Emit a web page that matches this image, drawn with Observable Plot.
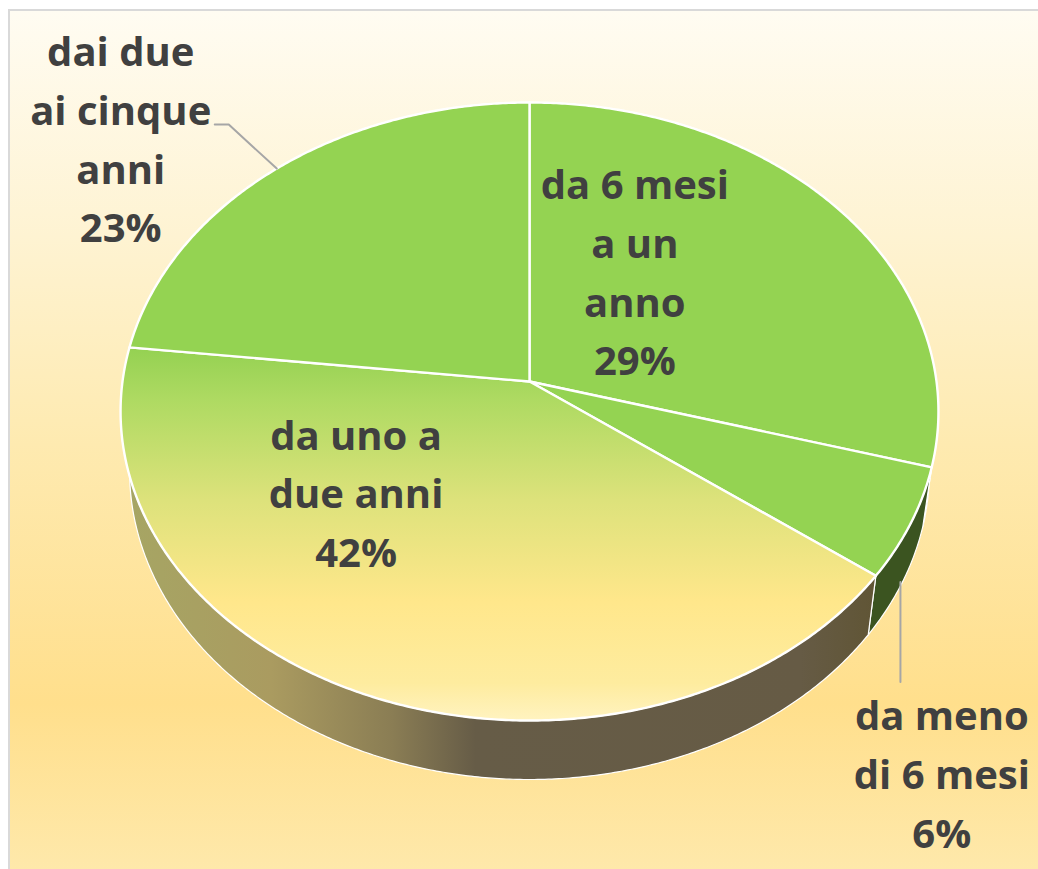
<!DOCTYPE html>
<html>
<head>
<meta charset="utf-8">
<script src="https://cdn.jsdelivr.net/npm/d3@7"></script>
<script src="https://cdn.jsdelivr.net/npm/@observablehq/plot@0.6"></script>
<style>
  html, body { margin: 0; padding: 0; background: #fff; }
  #chart { position: relative; width: 1038px; height: 869px; overflow: hidden; }
  #panel { position: absolute; left: 8px; top: 9px; width: 1040px; height: 870px; box-sizing: border-box;
    border: 2px solid #d9d9d9;
    background: linear-gradient(180deg, #fffcf2 0%, #fef3d2 26%, #feeab0 50%, #ffdf8c 80%, #fee9ac 100%); }
  #chart svg { position: absolute; left: 0; top: 0; }
</style>
</head>
<body>
<div id="chart"><div id="panel"></div></div>
<script>
// ---- data (clockwise from 12 o'clock) ----
const categories = ["da 6 mesi\na un\nanno", "da meno\ndi 6 mesi", "da uno a\ndue anni", "dai due\nai cinque\nanni"];
const shares = [29.4, 5.8, 41.6, 23.2];

// ---- geometry of the tilted disc ----
const cx = 529, cy = 381, A = 407, B = 306.1;   // scale ranges
const persp = 0.0971, taper = 0.978, depth = 59 / B;

const total = d3.sum(shares);
let run = 0;
const slices = shares.map((v, i) => {
  const start = run / total * 2 * Math.PI; run += v;
  const end = run / total * 2 * Math.PI;
  return {i, start, end, mid: (start + end) / 2, label: `${categories[i]}\n${Math.round(v)}%`};
});

function project(theta, r = 1, level = 0) {
  const u = r * Math.sin(theta), v = r * Math.cos(theta), w = 1 + persp * v;
  return {x: (u / w) * (level ? taper : 1), y: v / w - level * depth};
}
const arc = (a0, a1, level = 0) => {
  const n = Math.max(2, Math.ceil(Math.abs(a1 - a0) / 0.008));
  return d3.range(n + 1).map(k => project(a0 + (a1 - a0) * k / n, 1, level));
};
const topFace = s => { const c = project(0, 0); return [c, ...arc(s.start, s.end), c]; };
const wall = s => { const t = arc(s.start, s.end); return [...t, ...arc(s.end, s.start, 1), t[0]]; };

// ---- styling ----
const green = "#94d352";
const topFills = [green, green, "url(#faceGrad)", green];
const wallFills = ["#3b5420", "#3b5420", "url(#wallGrad)", "#6f9c3c"];
const faceStops = [[0, "#94d152"], [.14, "#aeda62"], [.41, "#dde27b"], [.68, "#ffe78b"], [.9, "#feec9f"], [1, "#fff3c0"]];
const wallStops = [[0, "#a6a664"], [.2, "#aa9b60"], [.36, "#8a7d54"], [.47, "#665c47"], [.9, "#665b45"], [1, "#605535"]];

const defs = () => {
  const d = d3.create("svg:defs");
  const add = (id, stops, vertical) => {
    const g = d.append("linearGradient").attr("id", id).attr("x1", 0).attr("y1", 0)
      .attr("x2", vertical ? 0 : 1).attr("y2", vertical ? 1 : 0);
    stops.forEach(([o, c]) => g.append("stop").attr("offset", o).attr("stop-color", c));
  };
  add("faceGrad", faceStops, true);
  add("wallGrad", wallStops, false);
  return d.node();
};

// label placement: radial fraction on the slice's mid-angle, then pixel nudge
const placement = [
  {r: .45, dx: -37, dy: -32},
  {r: 1,   dx: 31,  dy: 247},
  {r: .5,  dx: -95, dy: -41},
  {r: 1,   dx: -156, dy: -33}
];
const labels = slices.map(s => ({...project(s.mid, placement[s.i].r), ...placement[s.i], label: s.label}));

// leader lines start at the slice's outer edge
const leaderA = (() => {
  const p = project(slices[3].mid);
  return [p, {x: p.x - 48 / A, y: p.y + 44 / B}, {x: p.x - 62 / A, y: p.y + 44 / B}];
})();
const leaderB = (() => {
  const p = project(slices[1].mid, 1, 1);
  return [{x: p.x - 2 / A, y: p.y}, {x: p.x - 2 / A, y: p.y - 100 / B}];
})();

const chart = Plot.plot({
  width: 1038, height: 869, margin: 0,
  style: {background: "transparent", overflow: "visible"},
  x: {axis: null, domain: [-1, 1], range: [cx - A, cx + A]},
  y: {axis: null, domain: [-1, 1], range: [cy + B, cy - B]},
  marks: [
    defs,
    ...slices.map(s => Plot.line(wall(s), {x: "x", y: "y", fill: wallFills[s.i], stroke: "#fff", strokeWidth: 1.2, strokeLinejoin: "round"})),
    ...slices.map(s => Plot.line(topFace(s), {x: "x", y: "y", fill: topFills[s.i], stroke: "#fff", strokeWidth: 2.4, strokeLinejoin: "round"})),
    Plot.line(leaderA, {x: "x", y: "y", stroke: "#a6a6a6", strokeWidth: 2}),
    Plot.line(leaderB, {x: "x", y: "y", stroke: "#a6a6a6", strokeWidth: 2}),
    ...labels.map(l => Plot.text([l], {
      x: "x", y: "y", dx: l.dx, dy: l.dy, text: "label",
      fontFamily: "Open Sans", fontWeight: 700, fontSize: 40, lineHeight: 1.467,
      fill: "#404040", textAnchor: "middle", lineAnchor: "middle"
    }))
  ]
});
document.getElementById("chart").appendChild(chart);
</script>
</body>
</html>
